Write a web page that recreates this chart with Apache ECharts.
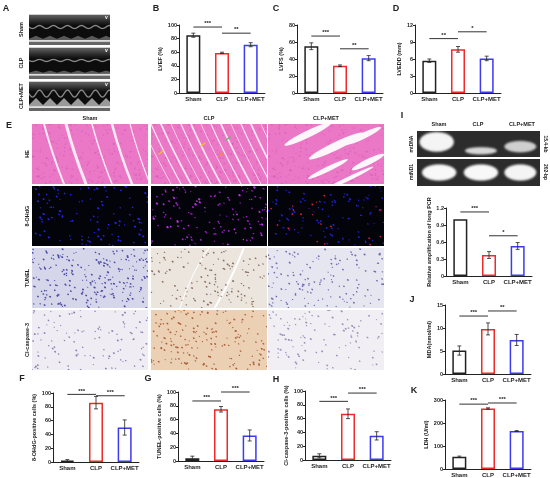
<!DOCTYPE html>
<html>
<head>
<meta charset="utf-8">
<script src="https://cdn.jsdelivr.net/npm/echarts@6/dist/echarts.min.js"></script>
<style>
html, body { margin: 0; padding: 0; background: #fff; }
#chart { width: 550px; height: 478px; }
</style>
</head>
<body>
<div id="chart"></div>
<script>
// groups
var groups = ['Sham', 'CLP', 'CLP+MET'];
var groupColors = ['#222222', '#ee2a2a', '#3b3bf0'];

// B LVEF
var lvef = [85, 59, 71];
var lvefErr = [3, 1, 3];
var lvefSig = [[0, 1, 97, '***'], [1, 2, 88, '**']];
// C LVFS
var lvfs = [55, 32, 41];
var lvfsErr = [4, 1, 3];
var lvfsSig = [[0, 1, 67, '***'], [1, 2, 52, '**']];
// D LVEDD
var lvedd = [5.7, 7.7, 6.1];
var lveddErr = [0.3, 0.5, 0.4];
var lveddSig = [[0, 1, 9.6, '**'], [1, 2, 10.8, '*']];
// F 8-OHdG
var ohdg = [2, 86, 50];
var ohdgErr = [1.5, 9, 11];
var ohdgSig = [[0, 1, 98, '***'], [1, 2, 96, '***']];
// G TUNEL
var tunel = [4, 75, 37];
var tunelErr = [3, 4, 8];
var tunelSig = [[0, 1, 87, '***'], [1, 2, 100, '***']];
// H Cl-caspase-3
var casp = [6, 67, 35];
var caspErr = [3, 7, 6];
var caspSig = [[0, 1, 85, '***'], [1, 2, 97, '***']];
// I long PCR
var pcr = [1.0, 0.37, 0.53];
var pcrErr = [0, 0.06, 0.06];
var pcrSig = [[0, 1, 1.13, '***'], [1, 2, 0.71, '*']];
// J MDA
var mda = [5.1, 9.8, 7.4];
var mdaErr = [1.0, 1.3, 1.2];
var mdaSig = [[0, 1, 12.6, '***'], [1, 2, 13.7, '**']];
// K LDH
var ldh = [53, 263, 165];
var ldhErr = [3, 3, 2];
var ldhSig = [[0, 1, 282, '***'], [1, 2, 287, '***']];

var FONT = '"Liberation Sans", Arial, sans-serif';

// 面板布局
var panels = [
  { name: 'LVEF (%)', vals: lvef, err: lvefErr, sig: lvefSig, max: 100, step: 20, left: 179, top: 25, h: 68, gap: 14 },
  { name: 'LVFS (%)', vals: lvfs, err: lvfsErr, sig: lvfsSig, max: 80, step: 20, left: 297, top: 25, h: 68, gap: 11 },
  { name: 'LVEDD (mm)', vals: lvedd, err: lveddErr, sig: lveddSig, max: 12, step: 3, left: 415, top: 25, h: 68, gap: 11 },
  { name: '8-OHdG-positive cells (%)', vals: ohdg, err: ohdgErr, sig: ohdgSig, max: 100, step: 20, left: 53, top: 393, h: 69, gap: 15 },
  { name: 'TUNEL-positive cells (%)', vals: tunel, err: tunelErr, sig: tunelSig, max: 100, step: 20, left: 178, top: 392, h: 69, gap: 15 },
  { name: 'Cl-caspase-3-positive cells (%)', vals: casp, err: caspErr, sig: caspSig, max: 100, step: 20, left: 305, top: 391, h: 69, gap: 15 },
  { name: 'Relative amplification of long PCR', vals: pcr, err: pcrErr, sig: pcrSig, max: 1.2, step: 0.3, left: 446, top: 208, h: 68, gap: 14 },
  { name: 'MDA(nmol/ml)', vals: mda, err: mdaErr, sig: mdaSig, max: 15, step: 5, left: 445, top: 305, h: 69, gap: 12 },
  { name: 'LDH (U/ml)', vals: ldh, err: ldhErr, sig: ldhSig, max: 300, step: 100, left: 445, top: 400, h: 69, gap: 15 }
];

var grids = [], xAxes = [], yAxes = [], series = [];

panels.forEach(function (p, i) {
  grids.push({ left: p.left, top: p.top, width: 86, height: p.h });
  xAxes.push({
    type: 'category', gridIndex: i, data: groups,
    axisLine: { lineStyle: { color: '#222', width: 1 } },
    axisTick: { show: false },
    axisLabel: { interval: 0, margin: 3, fontSize: 6, fontWeight: 'bold', color: '#222', fontFamily: FONT }
  });
  yAxes.push({
    type: 'value', gridIndex: i, min: 0, max: p.max, interval: p.step,
    name: p.name, nameLocation: 'middle', nameGap: p.gap,
    nameTextStyle: { fontSize: 5.5, fontWeight: 'bold', color: '#222', fontFamily: FONT },
    axisLine: { show: true, lineStyle: { color: '#222', width: 1 } },
    axisTick: { show: true, length: 2, lineStyle: { color: '#222' } },
    splitLine: { show: false },
    axisLabel: { margin: 2, fontSize: 5.5, fontWeight: 'bold', color: '#222', fontFamily: FONT }
  });
  // 柱
  series.push({
    type: 'bar', xAxisIndex: i, yAxisIndex: i, barWidth: 14, silent: true,
    data: p.vals.map(function (v, k) {
      return { value: v, itemStyle: { color: '#fff', borderColor: groupColors[k], borderWidth: 1.5 } };
    })
  });
  // 误差线
  series.push({
    type: 'custom', xAxisIndex: i, yAxisIndex: i, silent: true, z: 5,
    data: p.vals.map(function (v, k) { return [k, v, p.err[k]]; }),
    renderItem: function (params, api) {
      var x = api.value(0), y = api.value(1), e = api.value(2);
      if (!e) return null;
      var t = api.coord([x, y + e]), b = api.coord([x, y - e]);
      var st = { stroke: '#222', lineWidth: 0.8 };
      return {
        type: 'group', children: [
          { type: 'line', shape: { x1: t[0], y1: t[1], x2: b[0], y2: b[1] }, style: st },
          { type: 'line', shape: { x1: t[0] - 2, y1: t[1], x2: t[0] + 2, y2: t[1] }, style: st },
          { type: 'line', shape: { x1: b[0] - 2, y1: b[1], x2: b[0] + 2, y2: b[1] }, style: st }
        ]
      };
    }
  });
  // 显著性
  series.push({
    type: 'custom', xAxisIndex: i, yAxisIndex: i, silent: true, z: 5, clip: false,
    data: p.sig.map(function (s) { return [s[0], s[1], s[2]]; }),
    renderItem: function (params, api) {
      var a = api.coord([api.value(0), api.value(2)]);
      var b = api.coord([api.value(1), api.value(2)]);
      return {
        type: 'group', children: [
          { type: 'line', shape: { x1: a[0], y1: a[1], x2: b[0], y2: b[1] }, style: { stroke: '#333', lineWidth: 1 } },
          { type: 'text', style: { text: p.sig[params.dataIndex][3], x: (a[0] + b[0]) / 2, y: a[1] - 0.5, align: 'center', verticalAlign: 'bottom', font: 'bold 6px ' + FONT, fill: '#222' } }
        ]
      };
    }
  });
});

// ---- 图片 (canvas 近似) ----
function mk(w, h) {
  var c = document.createElement('canvas');
  c.width = w * 2; c.height = h * 2;
  var ctx = c.getContext('2d');
  ctx.scale(2, 2);
  return { c: c, ctx: ctx };
}
// 纹理用的确定性散列
function hash(n) {
  var s = Math.sin(n * 127.1 + 311.7) * 43758.5453;
  return s - Math.floor(s);
}
function dots(ctx, w, h, n, color, r, seed) {
  ctx.fillStyle = color;
  for (var i = 0; i < n; i++) {
    var px = hash(i + seed * 1000) * w;
    var py = hash(i * 1.7 + seed * 2000 + 0.5) * h;
    var rr = r * (0.7 + 0.6 * hash(i * 3.1 + seed));
    ctx.beginPath();
    ctx.ellipse(px, py, rr, rr * 0.75, 0.6, 0, Math.PI * 2);
    ctx.fill();
  }
}
function echo(w, h, amp, bright) {
  var o = mk(w, h), ctx = o.ctx;
  ctx.fillStyle = '#0d0d0d'; ctx.fillRect(0, 0, w, h);
  ctx.fillStyle = '#cfcfcf'; ctx.fillRect(0, 0, w, 1.2);
  var g = ctx.createLinearGradient(0, 0, 0, h * 0.3);
  g.addColorStop(0, '#6a6a6a'); g.addColorStop(1, '#1a1a1a');
  ctx.fillStyle = g; ctx.fillRect(0, 1.2, w, h * 0.3);
  ctx.strokeStyle = '#8a8a8a'; ctx.lineWidth = 1.3;
  ctx.beginPath();
  for (var x = 0; x <= w; x++) {
    var y = h * 0.42 + amp * 0.5 * Math.sin(x / 14 * Math.PI * 2);
    x === 0 ? ctx.moveTo(x, y) : ctx.lineTo(x, y);
  }
  ctx.stroke();
  ctx.fillStyle = bright ? '#9a9a9a' : '#5a5a5a';
  ctx.beginPath();
  ctx.moveTo(0, h);
  for (x = 0; x <= w; x++) {
    var t = (x / 14) % 1;
    y = h * 0.8 - amp * (t < 0.5 ? t * 2 : (1 - t) * 2);
    ctx.lineTo(x, y);
  }
  ctx.lineTo(w, h); ctx.closePath(); ctx.fill();
  ctx.fillStyle = '#e0e0e0'; ctx.fillRect(0, h * 0.84, w, h * 0.06);
  ctx.fillStyle = '#666'; ctx.fillRect(0, h * 0.9, w, h * 0.1);
  ctx.fillStyle = '#fff'; ctx.font = 'bold 5px sans-serif'; ctx.fillText('v', w - 5, 5);
  return o.c;
}
function he(w, h, type) {
  var o = mk(w, h), ctx = o.ctx;
  ctx.fillStyle = '#ea78c6'; ctx.fillRect(0, 0, w, h);
  dots(ctx, w, h, 260, 'rgba(200,70,170,0.4)', 0.8, 0.13);
  ctx.strokeStyle = '#fbeaf6'; ctx.lineCap = 'round';
  if (type === 0) {
    [[12, 2], [34, 3], [60, 1.5], [80, 2.5], [98, 1.2]].forEach(function (s) {
      ctx.lineWidth = s[1];
      ctx.beginPath(); ctx.moveTo(s[0], 0); ctx.quadraticCurveTo(s[0] + 8, h * 0.5, s[0] + 20, h); ctx.stroke();
    });
  } else if (type === 1) {
    for (var i = 0; i < 13; i++) {
      ctx.lineWidth = 0.7 + (i % 3) * 0.5;
      var x0 = i * 10 - 10;
      ctx.beginPath(); ctx.moveTo(x0, 0); ctx.quadraticCurveTo(x0 + 12, h * 0.45, x0 + 30, h); ctx.stroke();
    }
    ctx.lineWidth = 1.2;
    [['#f2c21a', 8, 30], ['#f2c21a', 50, 22], ['#4fc060', 75, 16], ['#f08a30', 68, 32]].forEach(function (a) {
      ctx.strokeStyle = a[0];
      ctx.beginPath(); ctx.moveTo(a[1], a[2]); ctx.lineTo(a[1] + 4, a[2] - 3); ctx.stroke();
    });
  } else {
    ctx.fillStyle = '#fdf6fb';
    [[40, 10, 26, 3.5], [68, 22, 30, 4], [95, 12, 20, 3], [60, 45, 22, 2.5], [100, 38, 18, 3], [80, 55, 28, 2]].forEach(function (e) {
      ctx.beginPath(); ctx.ellipse(e[0], e[1], e[2], e[3], -0.45, 0, Math.PI * 2); ctx.fill();
    });
  }
  return o.c;
}
function fluo(w, h, type) {
  var o = mk(w, h), ctx = o.ctx;
  ctx.fillStyle = '#03030a'; ctx.fillRect(0, 0, w, h);
  if (type === 0) {
    dots(ctx, w, h, 110, '#2424f0', 1, 0.21);
  } else if (type === 1) {
    dots(ctx, w, h, 110, '#9a1ec0', 0.9, 0.33);
    dots(ctx, w, h, 30, '#c030f0', 1.1, 0.71);
  } else {
    dots(ctx, w, h, 100, '#2222d0', 0.9, 0.47);
    dots(ctx, w, h, 20, '#e02040', 0.9, 0.83);
  }
  return o.c;
}
function ihc(w, h, bg, dot, n, streak, seed) {
  var o = mk(w, h), ctx = o.ctx;
  ctx.fillStyle = bg; ctx.fillRect(0, 0, w, h);
  if (streak) {
    ctx.strokeStyle = '#ffffff'; ctx.lineWidth = 2;
    ctx.beginPath(); ctx.moveTo(w * 0.55, h); ctx.quadraticCurveTo(w * 0.7, h * 0.5, w * 0.8, 0); ctx.stroke();
    ctx.lineWidth = 1;
    ctx.beginPath(); ctx.moveTo(w * 0.25, h); ctx.quadraticCurveTo(w * 0.35, h * 0.4, w * 0.5, 0); ctx.stroke();
  }
  dots(ctx, w, h, n, dot, 0.9, seed);
  return o.c;
}
function gel(w, h, bands) {
  var o = mk(w, h), ctx = o.ctx;
  ctx.fillStyle = '#2c2c2c'; ctx.fillRect(0, 0, w, h);
  ctx.filter = 'blur(2px)';
  bands.forEach(function (b) {
    ctx.fillStyle = b[4];
    ctx.beginPath(); ctx.ellipse(b[0] * w, b[1] * h, b[2] * w, b[3] * h, 0, 0, Math.PI * 2); ctx.fill();
  });
  ctx.filter = 'none';
  return o.c;
}

var graphics = [];
function img(c, x, y, w, h) {
  graphics.push({ type: 'image', silent: true, style: { image: c, x: x, y: y, width: w, height: h } });
}
function txt(s, x, y, size, rot, align) {
  graphics.push({
    type: 'text', silent: true, x: x, y: y, rotation: rot || 0,
    style: { text: s, font: 'bold ' + size + 'px ' + FONT, fill: '#222', align: align || 'center', verticalAlign: 'middle' }
  });
}

// A
var echoRows = [[14, 31, 3, false], [47, 32, 2, false], [81, 30, 7, true]];
echoRows.forEach(function (r, k) {
  img(echo(81, r[1], r[2], r[3]), 29, r[0], 81, r[1]);
  txt(groups[k], 21, r[0] + r[1] / 2, 5.5, Math.PI / 2);
});

// E
var eCols = [32, 151, 268];
var eRows = [124, 186, 248, 310];
var eNames = ['HE', '8-OHdG', 'TUNEL', 'Cl-caspase-3'];
eCols.forEach(function (x, k) {
  img(he(116, 60, k), x, eRows[0], 116, 60);
  img(fluo(116, 60, k), x, eRows[1], 116, 60);
  txt(groups[k], x + 58, 118, 5.5);
});
img(ihc(116, 60, '#d6d6ea', '#4c4ca8', 230, false, 0.31), eCols[0], eRows[2], 116, 60);
img(ihc(116, 60, '#ebe5de', '#8a6e60', 130, true, 0.42), eCols[1], eRows[2], 116, 60);
img(ihc(116, 60, '#e6e6f0', '#6e6eb4', 140, false, 0.53), eCols[2], eRows[2], 116, 60);
img(ihc(116, 60, '#efedf3', '#8a84b4', 110, false, 0.64), eCols[0], eRows[3], 116, 60);
img(ihc(116, 60, '#ebd0b4', '#b0603c', 170, false, 0.75), eCols[1], eRows[3], 116, 60);
img(ihc(116, 60, '#f1eff3', '#9a94bc', 110, false, 0.86), eCols[2], eRows[3], 116, 60);
eNames.forEach(function (n, k) { txt(n, 27, eRows[k] + 30, 5.5, Math.PI / 2); });

// I gel
img(gel(123, 26, [
  [0.16, 0.42, 0.14, 0.38, '#f4f4f4'],
  [0.52, 0.76, 0.13, 0.14, '#d8d8d8'],
  [0.84, 0.6, 0.13, 0.22, '#cfcfcf']
]), 417, 131, 123, 26);
img(gel(123, 27, [
  [0.18, 0.5, 0.14, 0.3, '#f8f8f8'],
  [0.52, 0.5, 0.14, 0.3, '#f8f8f8'],
  [0.84, 0.5, 0.13, 0.3, '#f4f4f4']
]), 417, 159, 123, 27);
txt(groups[0], 439, 124, 5.5); txt(groups[1], 478, 124, 5.5); txt(groups[2], 522, 124, 5.5);
txt('mtDNA', 412, 144, 5, Math.PI / 2); txt('mtND1', 412, 172, 5, Math.PI / 2);
txt('15.4-kb', 545, 144, 5, -Math.PI / 2); txt('202-bp', 545, 172, 5, -Math.PI / 2);

// 面板字母
[['A', 6, 9], ['B', 156, 9], ['C', 276, 9], ['D', 396, 9], ['E', 9, 126], ['I', 402, 116],
 ['F', 22, 379], ['G', 148, 379], ['H', 276, 380], ['J', 412, 300], ['K', 414, 391]].forEach(function (l) {
  txt(l[0], l[1], l[2], 9, 0);
});

var myChart = echarts.init(document.getElementById('chart'));
myChart.setOption({
  animation: false,
  grid: grids,
  xAxis: xAxes,
  yAxis: yAxes,
  series: series,
  graphic: graphics
});
</script>
</body>
</html>
